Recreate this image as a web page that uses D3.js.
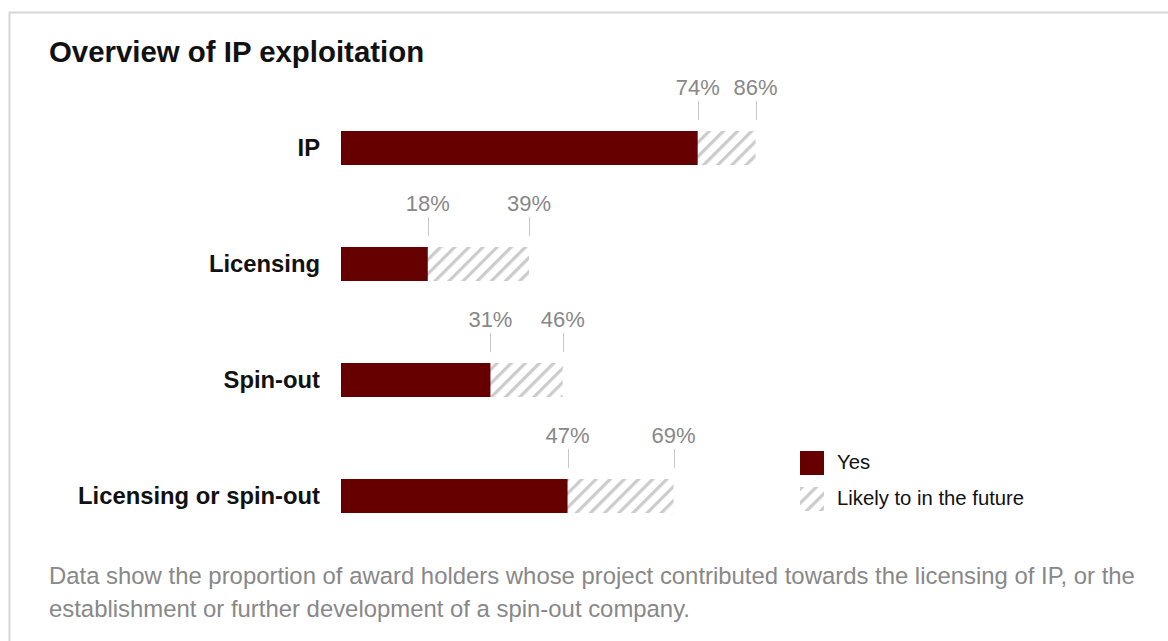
<!DOCTYPE html>
<html>
<head>
<meta charset="utf-8">
<script src="https://cdn.jsdelivr.net/npm/d3@7"></script>
<style>
  html, body { margin: 0; padding: 0; background: #fff; }
  svg { display: block; font-family: "Liberation Sans", Arial, Helvetica, sans-serif; }
</style>
</head>
<body>
<svg id="chart" width="1168" height="641"></svg>
<script>
// Share of award holders by exploitation route
const categories = ["IP", "Licensing", "Spin-out", "Licensing or spin-out"];
const yesValues = [74, 18, 31, 47];
const likelyValues = [86, 39, 46, 69];
const legendLabels = ["Yes", "Likely to in the future"];

const title = "Overview of IP exploitation";
const noteLines = [
  "Data show the proportion of award holders whose project contributed towards the licensing of IP, or the",
  "establishment or further development of a spin-out company."
];

const yesColor = "#660000";
const hatchColor = "#cccccc";

const svg = d3.select("#chart");

// hatch pattern for the "likely" portion
const defs = svg.append("defs");
const pat = defs.append("pattern")
  .attr("id", "hatch")
  .attr("patternUnits", "userSpaceOnUse")
  .attr("width", 10).attr("height", 10)
  .attr("patternTransform", "rotate(45)");
pat.append("rect").attr("width", 10).attr("height", 10).attr("fill", "#fff");
pat.append("rect").attr("x", 0).attr("y", 0).attr("width", 3.2).attr("height", 10).attr("fill", hatchColor);

// outer frame
svg.append("rect")
  .attr("x", 9.5).attr("y", 12.5)
  .attr("width", 1200).attr("height", 700)
  .attr("fill", "none").attr("stroke", "#d6d6d6").attr("stroke-width", 2);

svg.append("text")
  .attr("x", 49).attr("y", 62)
  .attr("font-size", 29.4).attr("font-weight", "bold").attr("fill", "#111")
  .text(title);

const x = d3.scaleLinear().domain([0, 100]).range([341, 823]);
const y = d3.scaleBand().domain(categories).range([131, 513]).paddingInner(0.7069).paddingOuter(0);

const rows = svg.append("g").selectAll("g")
  .data(categories.map((c, i) => ({ c, yes: yesValues[i], likely: likelyValues[i] })))
  .join("g")
  .attr("transform", d => `translate(0,${y(d.c)})`);

const bh = y.bandwidth();

rows.append("rect")
  .attr("x", x(0)).attr("y", 0)
  .attr("width", d => x(d.likely) - x(0)).attr("height", bh)
  .attr("fill", "url(#hatch)");

rows.append("rect")
  .attr("x", x(0)).attr("y", 0)
  .attr("width", d => x(d.yes) - x(0)).attr("height", bh)
  .attr("fill", yesColor);

rows.append("text")
  .attr("x", 320).attr("y", bh / 2 + 8)
  .attr("text-anchor", "end")
  .attr("font-size", 23.8).attr("font-weight", "bold").attr("fill", "#111")
  .text(d => d.c);

// value markers above each bar
["yes", "likely"].forEach(key => {
  rows.append("line")
    .attr("x1", d => Math.round(x(d[key])) + 0.5).attr("x2", d => Math.round(x(d[key])) + 0.5)
    .attr("y1", -30).attr("y2", -11)
    .attr("stroke", "#c8c8c8").attr("stroke-width", 1);
  rows.append("text")
    .attr("x", d => x(d[key])).attr("y", -36)
    .attr("text-anchor", "middle")
    .attr("font-size", 22).attr("fill", "#888")
    .text(d => d[key] + "%");
});

// legend
const legend = svg.append("g").attr("transform", "translate(800,451)");
legendLabels.forEach((lab, i) => {
  const g = legend.append("g").attr("transform", `translate(0,${i * 36})`);
  g.append("rect").attr("width", 24).attr("height", 24)
    .attr("fill", i === 0 ? yesColor : "url(#hatch)");
  g.append("text").attr("x", 37).attr("y", 18)
    .attr("font-size", 20.3).attr("fill", "#111").text(lab);
});

// footnote
svg.append("g").selectAll("text")
  .data(noteLines).join("text")
  .attr("x", 49).attr("y", (d, i) => 584 + i * 33)
  .attr("font-size", 23.9).attr("fill", "#888")
  .text(d => d);
</script>
</body>
</html>
